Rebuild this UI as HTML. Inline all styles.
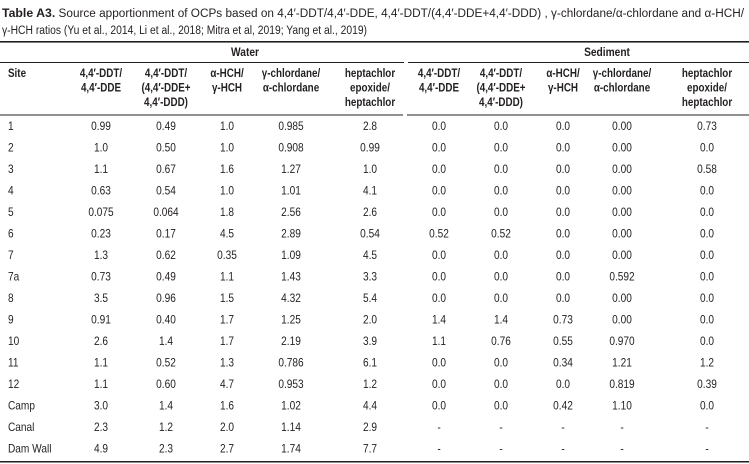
<!DOCTYPE html>
<html><head><meta charset="utf-8"><style>
html,body{margin:0;padding:0;background:#fff;}
svg{display:block;}
text{font-family:"Liberation Sans",sans-serif;fill:#231f20;font-size:11.5px;}
.b{font-weight:bold;font-size:12px;}
</style></head><body>
<svg id="tbl" width="749" height="464" viewBox="0 0 749 464" xmlns="http://www.w3.org/2000/svg">
<text x="2" y="17" textLength="742" lengthAdjust="spacingAndGlyphs"><tspan class="b">Table A3.</tspan>  Source apportionment of OCPs based on 4,4′-DDT/4,4′-DDE, 4,4′-DDT/(4,4′-DDE+4,4′-DDD) , γ-chlordane/α-chlordane and α-HCH/</text>
<text x="2" y="34" textLength="365" lengthAdjust="spacingAndGlyphs">γ-HCH ratios (Yu et al., 2014, Li et al., 2018; Mitra et al, 2019; Yang et al., 2019)</text>
<rect x="0" y="41" width="749" height="1.6" fill="#231f20"/>
<text class="b" transform="translate(245,56) scale(0.85,1)" text-anchor="middle">Water</text>
<text class="b" transform="translate(607,56) scale(0.85,1)" text-anchor="middle">Sediment</text>
<rect x="0" y="62" width="404" height="1" fill="#231f20"/>
<rect x="408" y="62" width="341" height="1" fill="#231f20"/>
<rect x="0" y="114.5" width="403" height="1" fill="#231f20"/>
<rect x="407" y="114.5" width="342" height="1" fill="#231f20"/>
<rect x="0" y="461" width="749" height="1.5" fill="#231f20"/>
<g id="head"></g>
<g id="body"></g>
</svg>
<script>
const sites=["1","2","3","4","5","6","7","7a","8","9","10","11","12","Camp","Canal","Dam Wall"];
const waterDdtDde=["0.99","1.0","1.1","0.63","0.075","0.23","1.3","0.73","3.5","0.91","2.6","1.1","1.1","3.0","2.3","4.9"];
const waterDdtSum=["0.49","0.50","0.67","0.54","0.064","0.17","0.62","0.49","0.96","0.40","1.4","0.52","0.60","1.4","1.2","2.3"];
const waterHch=["1.0","1.0","1.6","1.0","1.8","4.5","0.35","1.1","1.5","1.7","1.7","1.3","4.7","1.6","2.0","2.7"];
const waterChlordane=["0.985","0.908","1.27","1.01","2.56","2.89","1.09","1.43","4.32","1.25","2.19","0.786","0.953","1.02","1.14","1.74"];
const waterHepta=["2.8","0.99","1.0","4.1","2.6","0.54","4.5","3.3","5.4","2.0","3.9","6.1","1.2","4.4","2.9","7.7"];
const sedDdtDde=["0.0","0.0","0.0","0.0","0.0","0.52","0.0","0.0","0.0","1.4","1.1","0.0","0.0","0.0","-","-"];
const sedDdtSum=["0.0","0.0","0.0","0.0","0.0","0.52","0.0","0.0","0.0","1.4","0.76","0.0","0.0","0.0","-","-"];
const sedHch=["0.0","0.0","0.0","0.0","0.0","0.0","0.0","0.0","0.0","0.73","0.55","0.34","0.0","0.42","-","-"];
const sedChlordane=["0.00","0.00","0.00","0.00","0.00","0.00","0.00","0.592","0.00","0.00","0.970","1.21","0.819","1.10","-","-"];
const sedHepta=["0.73","0.0","0.58","0.0","0.0","0.0","0.0","0.0","0.0","0.0","0.0","1.2","0.39","0.0","-","-"];
const headers=[["Site"],["4,4′-DDT/","4,4′-DDE"],["4,4′-DDT/","(4,4′-DDE+","4,4′-DDD)"],["α-HCH/","γ-HCH"],["γ-chlordane/","α-chlordane"],["heptachlor","epoxide/","heptachlor"],["4,4′-DDT/","4,4′-DDE"],["4,4′-DDT/","(4,4′-DDE+","4,4′-DDD)"],["α-HCH/","γ-HCH"],["γ-chlordane/","α-chlordane"],["heptachlor","epoxide/","heptachlor"]];
const colNames=["site","water-ddt-dde","water-ddt-sum","water-hch","water-chlordane","water-heptachlor","sediment-ddt-dde","sediment-ddt-sum","sediment-hch","sediment-chlordane","sediment-heptachlor"];
const cols=[sites,waterDdtDde,waterDdtSum,waterHch,waterChlordane,waterHepta,sedDdtDde,sedDdtSum,sedHch,sedChlordane,sedHepta];
const colX=[8,101,166,227,291,370,439,501,563,622,707];
const NS="http://www.w3.org/2000/svg";
const head=document.getElementById('head'),body=document.getElementById('body');
function rowY(i){return 130+i*21.5;}
headers.forEach((lines,c)=>{
  lines.forEach((ln,k)=>{
    const t=document.createElementNS(NS,'text');
    
    
    t.setAttribute('class','b');
    t.setAttribute('transform','translate('+colX[c]+','+(77+k*14.5)+') scale(0.82,1)');
    t.setAttribute('text-anchor',c===0?'start':'middle');
    t.textContent=ln;
    head.appendChild(t);
  });
});
cols.forEach((arr,c)=>{
  arr.forEach((v,i)=>{
    const t=document.createElementNS(NS,'text');
    
    
    t.setAttribute('transform','translate('+colX[c]+','+rowY(i)+') scale(0.88,1)');
    t.setAttribute('text-anchor',c===0?'start':'middle');
    t.textContent=v;
    body.appendChild(t);
  });
});
</script>
</body></html>
